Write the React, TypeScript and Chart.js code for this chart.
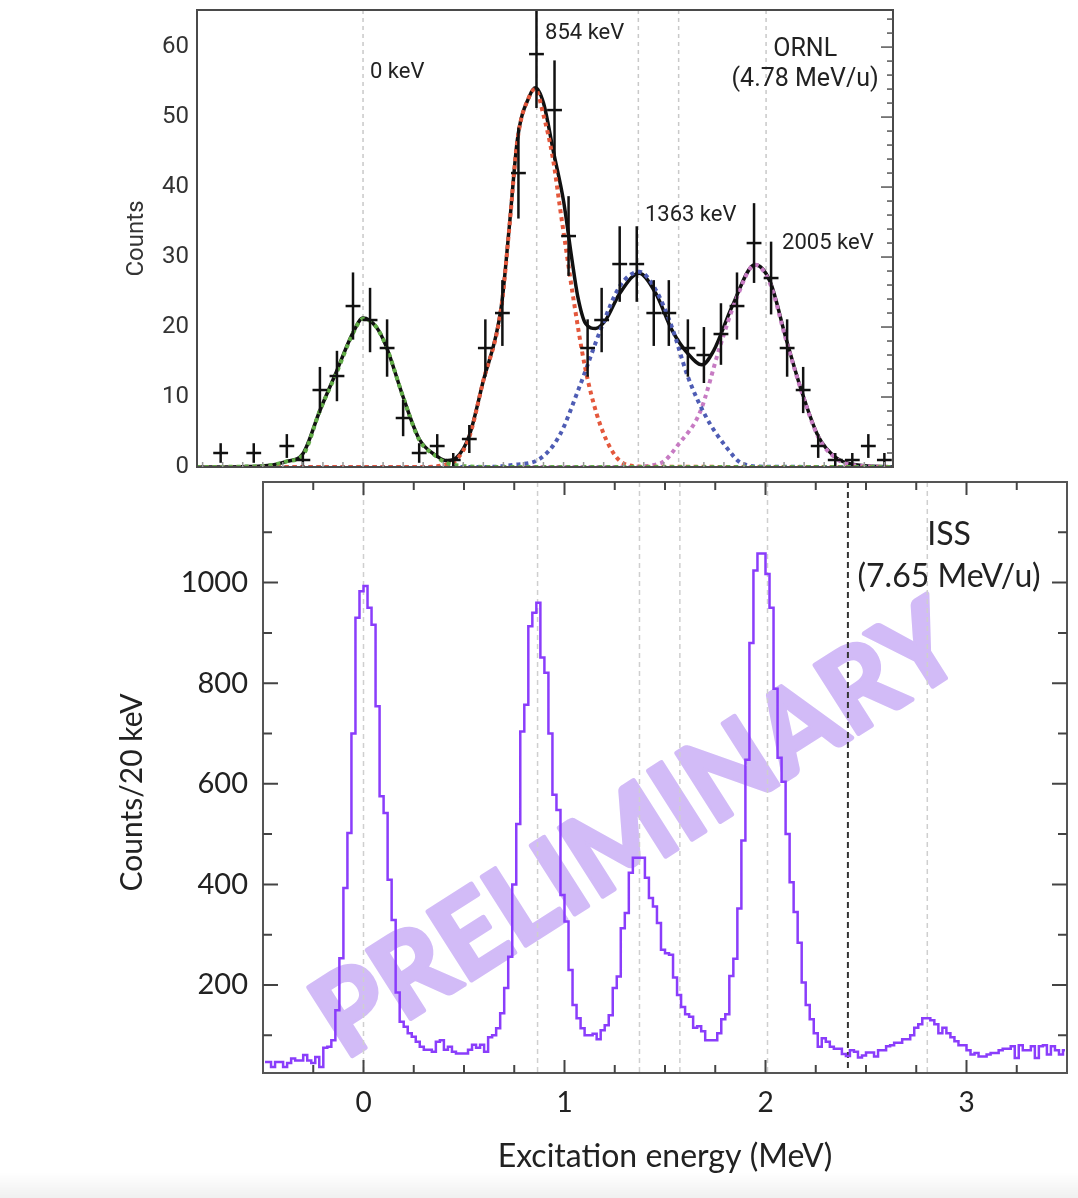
import React, { useEffect, useRef } from 'react';
import Chart from 'chart.js/auto';

// ---------- ORNL (4.78 MeV/u) spectrum, MeV / counts ----------
const ornlEnergy = [
  -0.71, -0.545, -0.38, -0.3, -0.215, -0.13, -0.05, 0.035, 0.12, 0.2,
  0.28, 0.37, 0.45, 0.53, 0.61, 0.695, 0.775, 0.865, 0.955, 1.025,
  1.12, 1.19, 1.28, 1.365, 1.45, 1.525, 1.62, 1.7, 1.785, 1.865,
  1.95, 2.035, 2.115, 2.195, 2.27, 2.355, 2.44, 2.52, 2.6,
];
const ornlCounts = [
  2, 2, 3, 1, 11, 13, 23, 21, 17, 7,
  2, 3, 1, 4, 17, 22, 42, 59, 51, 33,
  17, 21, 29, 29, 22, 22, 17, 16, 19, 23,
  32, 27, 17, 11, 3, 1, 1, 3, 1,
];
const ornlErrors = [
  1.4, 1.4, 1.7, 1, 3.3, 3.6, 4.8, 4.6, 4.1, 2.6,
  1.4, 1.7, 1, 2, 4.1, 4.7, 6.5, 7.7, 7.1, 5.7,
  4.1, 4.6, 5.4, 5.4, 4.7, 4.7, 4.1, 4, 4.4, 4.8,
  5.7, 5.2, 4.1, 3.3, 1.7, 1, 1, 1.7, 1,
];
const ornlBinHalfWidth = 0.037;

// fit curves
const fitTotalX = [
  -0.83, -0.6, -0.45, -0.38, -0.3, -0.216, -0.133, -0.05, 0, 0.066,
  0.116, 0.2, 0.28, 0.366, 0.42, 0.465, 0.53, 0.597, 0.69, 0.73,
  0.77, 0.83, 0.86, 0.9, 0.95, 1.0, 1.04, 1.07, 1.11, 1.16,
  1.21, 1.28, 1.377, 1.46, 1.54, 1.62, 1.69, 1.75, 1.84, 1.955,
  2.03, 2.11, 2.19, 2.27, 2.36, 2.44, 2.64,
];
const fitTotalY = [
  0, 0.05, 0.3, 0.8, 1.9, 8, 13.6, 19.2, 21.3, 20,
  17.2, 10, 4, 1.6, 0.9, 1.3, 4.5, 12, 23, 34.5,
  46.8, 53, 54.2, 52, 45, 38, 30, 24.5, 20.5, 19.8,
  21, 24.8, 27.7, 24.8, 19.6, 16.2, 14.6, 16.7, 22.9, 28.9,
  26.5, 18.3, 10.6, 4.4, 1.3, 0.4, 0,
];
const fit0X = [-0.83, -0.6, -0.45, -0.38, -0.3, -0.216, -0.133, -0.05, 0, 0.066, 0.116, 0.2, 0.28, 0.366, 0.415, 0.5, 0.65, 2.64];
const fit0Y = [0, 0.05, 0.3, 0.8, 1.7, 8, 13.4, 19.1, 21.2, 20, 17.2, 10, 3.9, 1.5, 0.6, 0.15, 0, 0];
const fit854X = [-0.83, 0.3, 0.42, 0.465, 0.53, 0.597, 0.69, 0.73, 0.77, 0.83, 0.86, 0.898, 0.948, 0.98, 1.008, 1.05, 1.107, 1.165, 1.23, 1.3, 1.4, 2.64];
const fit854Y = [0, 0, 0.4, 1, 4.3, 12, 22.9, 34.3, 46.7, 53, 54, 50.5, 43.9, 37.5, 32, 23.9, 14.3, 7.6, 2.9, 0.5, 0.05, 0];
const fit1363X = [-0.83, 0.6, 0.75, 0.883, 0.98, 1.08, 1.19, 1.28, 1.377, 1.46, 1.54, 1.62, 1.71, 1.81, 1.89, 2.0, 2.64];
const fit1363Y = [0, 0, 0.3, 1.2, 4.5, 11.5, 20, 25.8, 27.9, 25.3, 20, 12.9, 7.2, 2.9, 0.5, 0.05, 0];
const fit2005X = [-0.83, 1.3, 1.48, 1.58, 1.68, 1.78, 1.86, 1.955, 2.03, 2.11, 2.19, 2.27, 2.36, 2.44, 2.64];
const fit2005Y = [0, 0, 0.5, 3.5, 7.8, 17.2, 23.9, 28.9, 26.2, 18.1, 10.5, 4.3, 1.2, 0.3, 0];

const ornlYTicks = [0, 10, 20, 30, 40, 50, 60];
const stateEnergies = [0, 0.866, 1.373, 1.574, 2.01];

// ---------- ISS (7.65 MeV/u) spectrum, 20 keV bins from -0.5 MeV ----------
const issBinStart = -0.49;
const issBinWidth = 0.02;
const issCounts = [
  47, 47, 37, 47, 47, 37, 45, 54, 50, 50,
  61, 50, 45, 57, 37, 75, 77, 90, 150, 253,
  393, 502, 700, 930, 983, 993, 950, 916, 754, 575,
  542, 409, 329, 185, 127, 117, 104, 97, 87, 77,
  71, 71, 67, 87, 90, 71, 77, 67, 64, 64,
  64, 71, 81, 75, 81, 67, 96, 100, 114, 144,
  194, 256, 400, 520, 704, 757, 913, 940, 960, 851,
  821, 700, 578, 548, 379, 326, 230, 160, 134, 114,
  100, 100, 103, 92, 110, 120, 140, 194, 217, 313,
  343, 423, 453, 453, 453, 413, 373, 356, 323, 270,
  263, 260, 215, 180, 156, 142, 137, 115, 118, 108,
  90, 90, 90, 104, 132, 142, 218, 252, 352, 487,
  648, 880, 1024, 1058, 1058, 1017, 950, 789, 652, 604,
  500, 404, 345, 284, 205, 160, 132, 104, 77, 94,
  87, 77, 73, 73, 63, 59, 70, 67, 56, 60,
  66, 66, 58, 70, 70, 78, 80, 85, 85, 92,
  92, 100, 115, 122, 134, 134, 130, 122, 104, 115,
  104, 96, 88, 80, 80, 70, 62, 65, 58, 58,
  62, 65, 65, 70, 73, 73, 78, 55, 80, 70,
  70, 78, 55, 78, 80, 62, 78, 70, 62, 70,
];
const issXTicks = [0, 1, 2, 3];
const issYTicks = [200, 400, 600, 800, 1000];
const issStateEnergies = [0, 0.866, 1.373, 1.574, 2.01, 2.805];
const issThreshold = 2.41;

const topFont = 'Roboto';
const bottomFont = 'Lato';

const toPoints = (xs: number[], ys: number[]) => xs.map((v, i) => ({ x: v, y: ys[i] }));

const drawFrame = (ctx: CanvasRenderingContext2D, a: any, color: string) => {
  ctx.save();
  ctx.strokeStyle = color;
  ctx.lineWidth = 2;
  ctx.setLineDash([]);
  ctx.strokeRect(a.left, a.top, a.right - a.left, a.bottom - a.top);
  ctx.restore();
};

const vline = (ctx: CanvasRenderingContext2D, px: number, top: number, bottom: number) => {
  ctx.beginPath();
  ctx.moveTo(px, top);
  ctx.lineTo(px, bottom);
  ctx.stroke();
};

const ornlDecor = {
  id: 'ornlDecor',
  beforeDatasetsDraw(chart: any) {
    const { ctx, chartArea: a, scales: { x } } = chart;
    ctx.save();
    ctx.strokeStyle = '#c9c9c9';
    ctx.lineWidth = 1.5;
    ctx.setLineDash([4, 4]);
    stateEnergies.forEach((e) => vline(ctx, x.getPixelForValue(e), a.top, a.bottom));
    ctx.restore();
  },
  afterDatasetsDraw(chart: any) {
    const { ctx, chartArea: a, scales: { x, y } } = chart;
    ctx.save();
    ctx.beginPath();
    ctx.rect(a.left, a.top, a.right - a.left, a.bottom - a.top);
    ctx.clip();
    ctx.strokeStyle = '#111';
    ctx.lineWidth = 2.5;
    ornlEnergy.forEach((e, i) => {
      const c = ornlCounts[i];
      const px = x.getPixelForValue(e);
      const py = y.getPixelForValue(c);
      vline(ctx, px, y.getPixelForValue(c + ornlErrors[i]), y.getPixelForValue(c - ornlErrors[i]));
      ctx.beginPath();
      ctx.moveTo(x.getPixelForValue(e - ornlBinHalfWidth), py);
      ctx.lineTo(x.getPixelForValue(e + ornlBinHalfWidth), py);
      ctx.stroke();
    });
    ctx.restore();

    drawFrame(ctx, a, '#4a4a4a');

    // inward ticks: right side every 2 counts, bottom every 0.1 MeV
    ctx.save();
    ctx.strokeStyle = '#555';
    ctx.lineWidth = 1.5;
    for (let v = 2; v < y.max; v += 2) {
      const py = y.getPixelForValue(v);
      const len = v % 10 === 0 ? 12 : 6;
      ctx.beginPath();
      ctx.moveTo(a.right, py);
      ctx.lineTo(a.right - len, py);
      ctx.stroke();
    }
    ctx.strokeStyle = '#999';
    for (let v = -0.8; v < x.max; v += 0.1) {
      const px = x.getPixelForValue(v);
      vline(ctx, px, a.bottom - 5, a.bottom);
    }
    ctx.restore();

    ctx.save();
    ctx.fillStyle = '#222';
    ctx.font = `22px ${topFont}`;
    ctx.textBaseline = 'middle';
    ctx.textAlign = 'left';
    ctx.fillText('0 keV', x.getPixelForValue(0.035), y.getPixelForValue(56.4));
    ctx.fillText('854 keV', x.getPixelForValue(0.908), y.getPixelForValue(62));
    ctx.fillText('1363 keV', x.getPixelForValue(1.406), y.getPixelForValue(36));
    ctx.fillText('2005 keV', x.getPixelForValue(2.09), y.getPixelForValue(31.9));
    ctx.font = `25px ${topFont}`;
    ctx.textAlign = 'center';
    ctx.fillText('ORNL', x.getPixelForValue(2.205), y.getPixelForValue(59.6));
    ctx.fillText('(4.78 MeV/u)', x.getPixelForValue(2.205), y.getPixelForValue(55.3));
    ctx.restore();
  },
};

const issDecor = {
  id: 'issDecor',
  beforeDatasetsDraw(chart: any) {
    const { ctx, chartArea: a, scales: { x, y } } = chart;
    ctx.save();
    ctx.beginPath();
    ctx.rect(a.left, a.top, a.right - a.left, a.bottom - a.top);
    ctx.clip();

    // heavy watermark: fill plus a same-colour stroke to thicken the strokes
    ctx.save();
    ctx.translate(x.getPixelForValue(1.365), y.getPixelForValue(506));
    ctx.rotate(-0.567);
    ctx.font = `bold 112px ${bottomFont}`;
    ctx.fillStyle = '#d2bbf7';
    ctx.strokeStyle = '#d2bbf7';
    ctx.lineWidth = 5;
    ctx.lineJoin = 'round';
    ctx.textAlign = 'center';
    ctx.textBaseline = 'middle';
    ctx.strokeText('PRELIMINARY', 0, 0);
    ctx.fillText('PRELIMINARY', 0, 0);
    ctx.restore();

    ctx.strokeStyle = '#cfcfcf';
    ctx.lineWidth = 1.5;
    ctx.setLineDash([5, 4]);
    issStateEnergies.forEach((e) => vline(ctx, x.getPixelForValue(e), a.top, a.bottom));
    ctx.strokeStyle = '#333';
    ctx.lineWidth = 2;
    ctx.setLineDash([6, 4]);
    vline(ctx, x.getPixelForValue(issThreshold), a.top, a.bottom);
    ctx.restore();
  },
  afterDatasetsDraw(chart: any) {
    const { ctx, chartArea: a, scales: { x, y } } = chart;
    drawFrame(ctx, a, '#555');

    ctx.save();
    ctx.strokeStyle = '#444';
    ctx.lineWidth = 2;
    for (let v = 100; v < y.max; v += 100) {
      const py = y.getPixelForValue(v);
      const len = v % 200 === 0 ? 15 : 9;
      ctx.beginPath();
      ctx.moveTo(a.left, py);
      ctx.lineTo(a.left + len, py);
      ctx.moveTo(a.right, py);
      ctx.lineTo(a.right - len, py);
      ctx.stroke();
    }
    for (let v = -0.25; v < x.max; v += 0.25) {
      const px = x.getPixelForValue(v);
      const len = Math.abs(v - Math.round(v)) < 1e-6 ? 13 : 8;
      vline(ctx, px, a.bottom - len, a.bottom);
      vline(ctx, px, a.top, a.top + len);
    }
    ctx.restore();

    ctx.save();
    ctx.fillStyle = '#222';
    ctx.font = `32px ${bottomFont}`;
    ctx.textAlign = 'center';
    ctx.textBaseline = 'middle';
    ctx.fillText('ISS', x.getPixelForValue(2.913), y.getPixelForValue(1095));
    ctx.fillText('(7.65 MeV/u)', x.getPixelForValue(2.913), y.getPixelForValue(1012));
    // rotated y-axis title, slightly below the plot centre as in the original
    ctx.translate(132, (a.top + a.bottom) / 2 + 15);
    ctx.rotate(-Math.PI / 2);
    ctx.font = `30px ${bottomFont}`;
    ctx.fillText('Counts/20 keV', 0, 0);
    ctx.restore();
  },
};

const dotted = (xs: number[], ys: number[], color: string) => ({
  data: toPoints(xs, ys),
  showLine: true,
  borderColor: color,
  borderWidth: 4,
  borderDash: [4, 4],
  pointRadius: 0,
  cubicInterpolationMode: 'monotone' as const,
});

const App = () => {
  const topRef = useRef<HTMLCanvasElement>(null);
  const bottomRef = useRef<HTMLCanvasElement>(null);

  useEffect(() => {
    const top = new Chart(topRef.current!, {
      type: 'scatter',
      data: {
        datasets: [
          dotted(fit0X, fit0Y, '#62ad47'),
          dotted(fit854X, fit854Y, '#e4583c'),
          dotted(fit1363X, fit1363Y, '#4e5cb4'),
          dotted(fit2005X, fit2005Y, '#c77bc3'),
          {
            data: toPoints(fitTotalX, fitTotalY),
            showLine: true,
            borderColor: '#111',
            borderWidth: 3.5,
            pointRadius: 0,
            cubicInterpolationMode: 'monotone',
          },
        ],
      },
      options: {
        responsive: false,
        animation: false,
        layout: { padding: { top: 10, right: 185, bottom: 11, left: 0 } },
        plugins: { legend: { display: false }, tooltip: { enabled: false } },
        scales: {
          x: { type: 'linear', display: false, min: -0.828, max: 2.643 },
          y: {
            min: 0,
            max: 65.3,
            afterFit: (s: any) => {
              s.width = 197;
              s.paddingTop = 0;
              s.paddingBottom = 0;
            },
            afterBuildTicks: (s: any) => { s.ticks = ornlYTicks.map((v) => ({ value: v })); },
            grid: { display: false, drawTicks: false },
            border: { display: false },
            ticks: { color: '#333', font: { family: topFont, size: 24 }, padding: 8 },
            title: {
              display: true,
              text: 'Counts',
              color: '#333',
              font: { family: topFont, size: 24 },
              padding: { top: 123, bottom: 0 },
            },
          },
        },
      },
      plugins: [ornlDecor],
    });

    const bottom = new Chart(bottomRef.current!, {
      type: 'scatter',
      data: {
        datasets: [
          {
            data: issCounts.map((c, i) => ({ x: issBinStart + i * issBinWidth, y: c })),
            showLine: true,
            stepped: 'middle',
            borderColor: '#8a3dfb',
            borderWidth: 2.5,
            pointRadius: 0,
          },
        ],
      },
      options: {
        responsive: false,
        animation: false,
        layout: { padding: { top: 12, right: 11, bottom: 0, left: 0 } },
        plugins: { legend: { display: false }, tooltip: { enabled: false } },
        scales: {
          x: {
            type: 'linear',
            min: -0.5,
            max: 3.5,
            afterFit: (s: any) => {
              s.height = 125;
              s.paddingLeft = 0;
              s.paddingRight = 0;
            },
            afterBuildTicks: (s: any) => { s.ticks = issXTicks.map((v) => ({ value: v })); },
            grid: { display: false, drawTicks: false },
            border: { display: false },
            ticks: { color: '#222', font: { family: bottomFont, size: 28 }, padding: 13, callback: (v: any) => String(v) },
            title: {
              display: true,
              text: 'Excitation energy (MeV)',
              color: '#222',
              font: { family: bottomFont, size: 32 },
              padding: { top: 0, bottom: 22 },
            },
          },
          y: {
            min: 25,
            max: 1200,
            afterFit: (s: any) => {
              s.width = 263;
              s.paddingTop = 0;
              s.paddingBottom = 0;
            },
            afterBuildTicks: (s: any) => { s.ticks = issYTicks.map((v) => ({ value: v })); },
            grid: { display: false, drawTicks: false },
            border: { display: false },
            ticks: { color: '#222', font: { family: bottomFont, size: 29 }, padding: 15, callback: (v: any) => String(v) },
          },
        },
      },
      plugins: [issDecor],
    });

    return () => {
      top.destroy();
      bottom.destroy();
    };
  }, []);

  return (
    <div style={{ position: 'absolute', left: 0, top: 0, width: 1078, height: 1198, background: '#fff', overflow: 'hidden' }}>
      <canvas ref={topRef} width={1078} height={478} style={{ position: 'absolute', left: 0, top: 0, width: 1078, height: 478 }} />
      <canvas ref={bottomRef} width={1078} height={728} style={{ position: 'absolute', left: 0, top: 470, width: 1078, height: 728 }} />
      <div style={{ position: 'absolute', left: 0, top: 1172, width: 1078, height: 26, background: 'linear-gradient(rgba(0,0,0,0), rgba(0,0,0,0.06))' }} />
    </div>
  );
};

export default App;
